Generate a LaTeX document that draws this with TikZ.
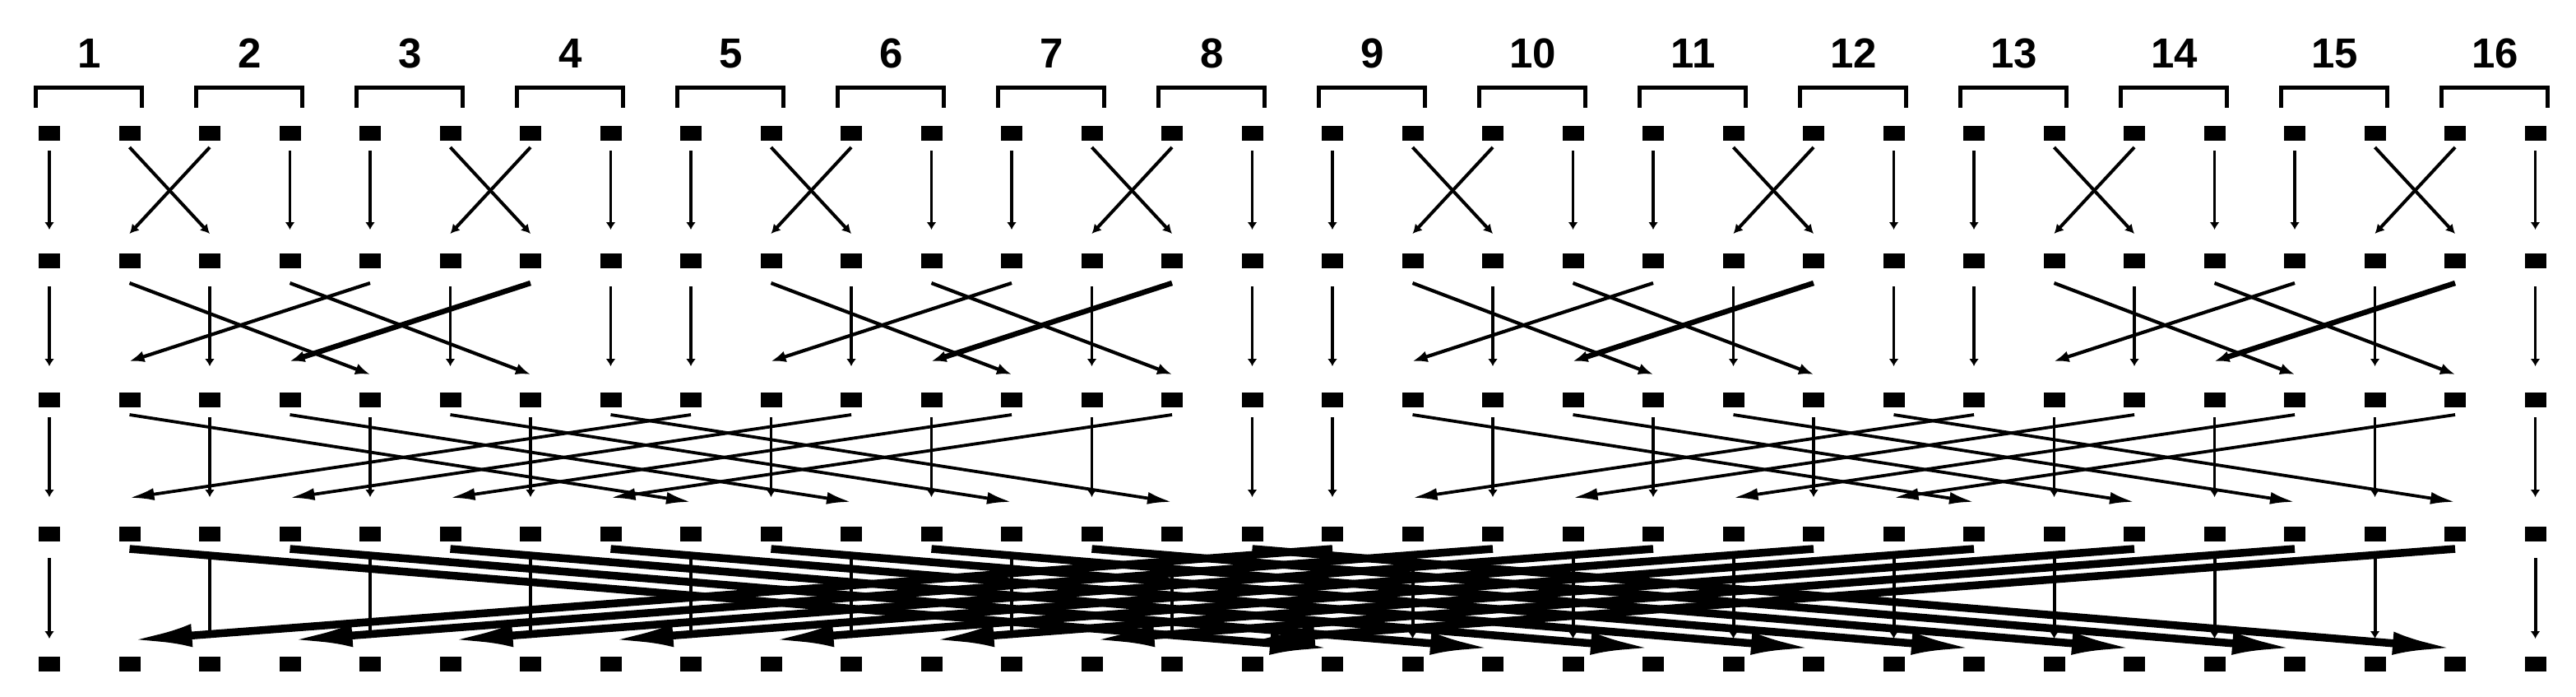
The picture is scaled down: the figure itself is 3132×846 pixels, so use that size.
\documentclass[tikz,border=0pt]{standalone}
\usepackage{fontspec}
\setmainfont{Liberation Sans}
\usetikzlibrary{arrows.meta}
\begin{document}
\begin{tikzpicture}[x=1pt,y=-1pt,
  sq/.style={fill=black, draw=none, minimum width=26pt, minimum height=18pt, inner sep=0pt, outer sep=0pt},
  lab/.style={font=\fontsize{51}{60}\selectfont\bfseries, inner sep=0pt},
  brk/.style={line width=5pt, line join=miter},
  vert/.style={line width=#1, -{Latex[length=9pt,width=12pt]}},
  diag/.style n args={3}{line width=#1, -{Latex[length=#2,width=#3]}}
]
\useasboundingbox (0,0) rectangle (3132,846);
% squares
\foreach \r/\yy in {0/162,1/317,2/486,3/649,4/807}{
  \foreach \i in {0,...,31}{
    \pgfmathsetmacro{\xx}{60+97.5*\i}
    \node[sq] (q-\r-\i) at (\xx,\yy) {};
  }
}
% labels and brackets
\foreach \k in {1,...,16}{
  \pgfmathsetmacro{\xl}{60+97.5*(2*\k-2)-17}
  \pgfmathsetmacro{\xr}{60+97.5*(2*\k-1)+15}
  \pgfmathsetmacro{\xm}{60+97.5*(2*\k-1.5)}
  \node[lab] (l-\k) at (\xm,65) {\k};
  \draw[brk] (\xl,131) -- (\xl,106) -- (\xr,106) -- (\xr,131);
}
% stages
\foreach \s/\ys/\yl/\yr/\vs/\ve/\lw/\al/\aw/\vw in {
  1/179/284/284/183/279/4/11/12/3.2,
  2/344/439/455/348/445/4.2/18/14/3.8,
  3/504/605/610/507/604/3.8/30/15/3.8,
  4/667/778/788/678/776/9.5/76/28/4}{
  \foreach \i in {0,...,31}{
    \pgfmathtruncatemacro{\bz}{mod(\i,2)}
    \pgfmathtruncatemacro{\bk}{mod(floor(\i/(2^\s)),2)}
    \pgfmathsetmacro{\xx}{60+97.5*\i}
    \ifnum\bz=\bk
      \coordinate (vs-\s-\i) at (\xx,\vs);
      \coordinate (ve-\s-\i) at (\xx,\ve);
      \draw[vert=\vw pt] (vs-\s-\i) -- (ve-\s-\i);
    \else
      \ifnum\bz=1
        \pgfmathtruncatemacro{\j}{\i+2^\s-1}
        \pgfmathsetmacro{\ye}{\yr}
      \else
        \pgfmathtruncatemacro{\j}{\i-2^\s+1}
        \pgfmathsetmacro{\ye}{\yl}
      \fi
      \pgfmathsetmacro{\xj}{60+97.5*\j}
      \pgfmathtruncatemacro{\thick}{(\s==2)&&(mod(\i,8)==6)}
      \ifnum\thick=1
        \def\lww{6.5}
      \else
        \edef\lww{\lw}
      \fi
      \coordinate (ds-\s-\i) at (\xx,\ys);
      \coordinate (de-\s-\i) at (\xj,\ye);
      \draw[diag={\lww pt}{\al pt}{\aw pt}] (ds-\s-\i) -- (de-\s-\i);
    \fi
  }
}
\end{tikzpicture}
\end{document}
